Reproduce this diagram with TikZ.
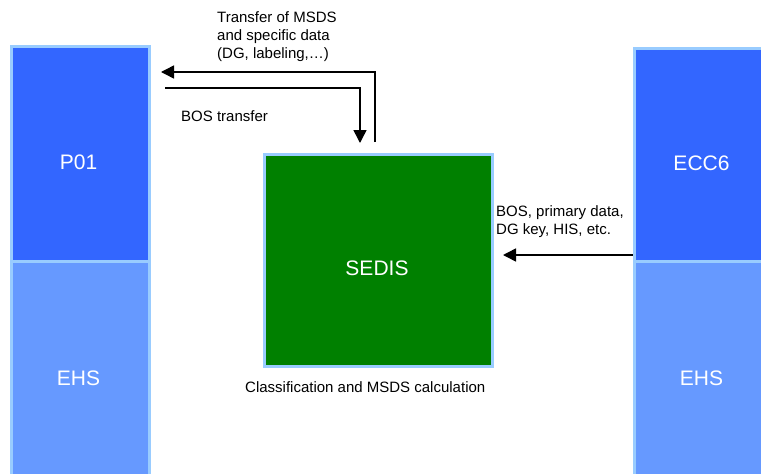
\documentclass[tikz,border=0pt]{standalone}
\usepackage{fontspec}
\setmainfont{Liberation Sans}
\usetikzlibrary{arrows.meta}
\definecolor{sysblue}{HTML}{3366FF}
\definecolor{ehsblue}{HTML}{6699FF}
\definecolor{rim}{HTML}{99CCFF}
\definecolor{sedisgreen}{HTML}{008000}
\tikzset{
  sysbox/.style={draw=rim, line width=3pt, inner sep=0pt, anchor=north west},
  big/.style={text=white, font=\fontsize{21}{25}\selectfont},
  small/.style={font=\fontsize{15}{18}\selectfont, align=left, anchor=west, inner sep=0pt, text=black},
  arr/.style={line width=1.5pt, -{Triangle[length=13pt,width=13pt]}},
}
\begin{document}
\begin{tikzpicture}[x=1pt,y=-1pt]
\useasboundingbox (0,0) rectangle (761,474);
\begin{scope}
\clip (0,0) rectangle (761,474);
% left column
\node[sysbox, fill=ehsblue, minimum width=138pt, minimum height=240pt] (ehsL) at (9.5,259.5) {};
\node[sysbox, fill=sysblue, minimum width=138pt, minimum height=215pt] (p01) at (9.5,44.5) {};
% right column
\node[sysbox, fill=ehsblue, minimum width=138pt, minimum height=240pt] (ehsR) at (632.5,259.5) {};
\node[sysbox, fill=sysblue, minimum width=138pt, minimum height=213pt] (ecc) at (632.5,46.5) {};
% SEDIS
\node[sysbox, fill=sedisgreen, minimum width=228pt, minimum height=212pt] (sedis) at (263,152.5) {};
\end{scope}
% box labels
\node[big] (p01t) at (78.5,162) {P01};
\node[big] (ehsLt) at (78.5,378) {EHS};
\node[big] (ecct) at (701.5,163) {ECC6};
\node[big] (ehsRt) at (701.5,378) {EHS};
\node[big] (sedist) at (377,268) {SEDIS};
% connectors
\coordinate (a1s) at (375,142);
\coordinate (a1e) at (161,72);
\draw[arr] (a1s) |- (a1e);
\coordinate (a2s) at (165,88);
\coordinate (a2e) at (360,143);
\draw[arr] (a2s) -| (a2e);
\coordinate (a3e) at (503,255);
\draw[arr] (ecc.west |- a3e) -- (a3e);
% texts
\node[small] (t1) at (217,37) {Transfer of MSDS\\and specific data\\(DG, labeling,…)};
\node[small] (t2) at (181,116) {BOS transfer};
\node[small] (t3) at (496,222) {BOS, primary data,\\DG key, HIS, etc.};
\node[small] (t4) at (245,387) {Classification and MSDS calculation};
\end{tikzpicture}
\end{document}
